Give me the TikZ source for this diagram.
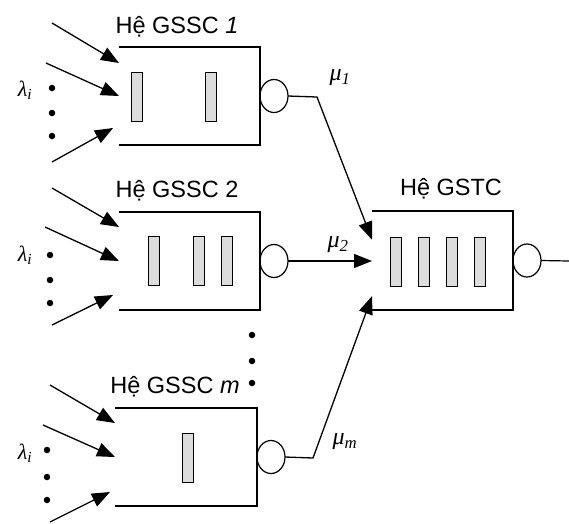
\documentclass[tikz,border=0pt]{standalone}
\usepackage{fontspec}
\setmainfont{Liberation Sans}
\newfontfamily\ratefont{Liberation Serif}
\definecolor{slotgray}{RGB}{220,220,220}
\usetikzlibrary{arrows.meta,shapes.geometric,calc}

\begin{document}
\begin{tikzpicture}[
  x=1pt,y=-1pt,
  every node/.style={inner sep=0pt,outer sep=0pt},
  queuebox/.style={minimum width=141pt,minimum height=98pt},
  slotbox/.style={draw,fill=slotgray,line width=1pt,
                  minimum width=11pt,minimum height=49pt},
  serverbox/.style={draw,ellipse,line width=1.2pt,anchor=west,
                    minimum width=28pt,minimum height=33pt},
  titlelbl/.style={anchor=base,font=\fontsize{23.5}{26}\selectfont},
  ratelbl/.style={font=\ratefont\itshape\fontsize{24}{26}\selectfont},
  srclbl/.style={font=\ratefont\itshape\fontsize{22}{24}\selectfont},
  inarrow/.style={-{Triangle[length=18pt,width=14pt]},line width=1.3pt},
  dotmark/.style={circle,fill=black,minimum size=6.5pt},
]
  \useasboundingbox (0,0) rectangle (569,523);

  % GSSC 1
  \node[queuebox] (g1) at (189.5,96) {};
  \draw[line width=1.3pt] (g1.north west) -| (g1.south east) -- (g1.south west);
  \node[titlelbl] (t1) at (177,33) {Hệ GSSC \textit{1}};
  \node[slotbox] (s1a) at (136.5,96.5) {};
  \node[slotbox] (s1b) at (210.5,96.5) {};
  \node[serverbox] (c1) at (g1.east) {};
  \coordinate (a1t) at (52,23);
  \coordinate (a1m) at (46,63);
  \coordinate (a1b) at (52,162);
  \draw[inarrow] (a1t) -- ($(g1.north west)+(0,16)$);
  \draw[inarrow] (a1m) -- (g1.west);
  \draw[inarrow] (a1b) -- ($(g1.south west)+(-6,-17)$);
  \node[srclbl] (l1) at (25,90) {λ\textsubscript{i}};
  \node[dotmark] (d1a) at (52,88) {};
  \node[dotmark] (d1b) at (52,113) {};
  \node[dotmark] (d1c) at (52,136) {};

  % GSSC 2
  \node[queuebox] (g2) at (189.5,261) {};
  \draw[line width=1.3pt] (g2.north west) -| (g2.south east) -- (g2.south west);
  \node[titlelbl] (t2) at (177,197) {Hệ GSSC 2};
  \node[slotbox] (s2a) at (153.5,261) {};
  \node[slotbox] (s2b) at (198.5,261) {};
  \node[slotbox] (s2c) at (226.5,261) {};
  \node[serverbox] (c2) at (g2.east) {};
  \coordinate (a2t) at (52,188);
  \coordinate (a2m) at (45,227);
  \coordinate (a2b) at (52,325);
  \draw[inarrow] (a2t) -- ($(g2.north west)+(0,15)$);
  \draw[inarrow] (a2m) -- (g2.west);
  \draw[inarrow] (a2b) -- ($(g2.south west)+(-6,-15)$);
  \node[srclbl] (l2) at (25,255) {λ\textsubscript{i}};
  \node[dotmark] (d2a) at (50,255) {};
  \node[dotmark] (d2b) at (50,280) {};
  \node[dotmark] (d2c) at (50,303) {};

  % dots between systems
  \node[dotmark] (v1) at (252,335) {};
  \node[dotmark] (v2) at (252,361) {};
  \node[dotmark] (v3) at (252,383) {};

  % GSSC m
  \node[queuebox,minimum width=142pt] (gm) at (186,457) {};
  \draw[line width=1.3pt] (gm.north west) -| (gm.south east) -- (gm.south west);
  \node[titlelbl] (tm) at (175,393) {Hệ GSSC \textit{m}};
  \node[slotbox] (sma) at (187.5,458) {};
  \node[serverbox] (cm) at (gm.east) {};
  \coordinate (amt) at (50,385);
  \coordinate (amm) at (43,425);
  \coordinate (amb) at (50,522);
  \draw[inarrow] (amt) -- ($(gm.north west)+(0,15)$);
  \draw[inarrow] (amm) -- (gm.west);
  \draw[inarrow] (amb) -- ($(gm.south west)+(-5,-14)$);
  \node[srclbl] (lm) at (25,453) {λ\textsubscript{i}};
  \node[dotmark] (dma) at (47,450) {};
  \node[dotmark] (dmb) at (47,477) {};
  \node[dotmark] (dmc) at (47,500) {};

  % GSTC
  \node[queuebox,minimum height=99pt] (gt) at (442.5,260.5) {};
  \draw[line width=1.3pt] (gt.north west) -| (gt.south east) -- (gt.south west);
  \node[titlelbl] (tt) at (451,195) {Hệ GSTC};
  \node[slotbox] (sta) at (395.5,261.5) {};
  \node[slotbox] (stb) at (423.5,261.5) {};
  \node[slotbox] (stc) at (451.5,261.5) {};
  \node[slotbox] (std) at (479.5,261.5) {};
  \node[serverbox] (ct) at (gt.east) {};
  \coordinate (out) at (569,261);
  \draw[line width=1.2pt] (ct.east) -- (out);

  % departures into GSTC
  \coordinate (k1) at (317,97);
  \coordinate (km) at (313,458);
  \draw[inarrow] (c1.east) -- (k1) -- ($(gt.north west)!0.29!(gt.south west)$);
  \draw[inarrow] (c2.east) -- (c2.east -| gt.west);
  \draw[inarrow] (cm.east) -- (km) -- ($(gt.north west)!0.86!(gt.south west)$);
  \node[ratelbl] (m1) at (340,78) {μ\textsubscript{1}};
  \node[ratelbl] (m2) at (338,245) {μ\textsubscript{2}};
  \node[ratelbl] (mm) at (345,442) {μ\textsubscript{m}};
\end{tikzpicture}
\end{document}
